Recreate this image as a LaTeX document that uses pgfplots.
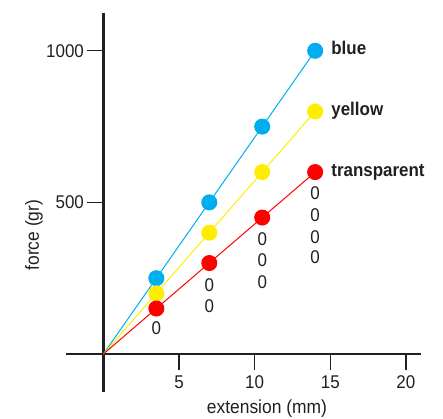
\documentclass[border=0pt]{standalone}
\usepackage{pgfplots}
\pgfplotsset{compat=1.18}
\usepackage{fontspec}
\setmainfont{Liberation Sans}
\newfontfamily\condbold{Liberation Sans Bold}[FakeStretch=0.92]
\newfontfamily\cond{Liberation Sans}[FakeStretch=0.92]
\definecolor{cblue}{HTML}{00AEEF}
\definecolor{cyel}{HTML}{FFED00}
\definecolor{cred}{HTML}{FF0000}
\definecolor{ink}{HTML}{231F20}
\begin{document}
\begin{tikzpicture}[x=1bp,y=1bp]
\useasboundingbox (-103.4bp,-65bp) rectangle (339.6bp,354bp);
\begin{axis}[
 anchor=origin, at={(0,0)},
 scale only axis, width=355bp, height=379bp,
 xmin=-2.47, xmax=21, ymin=-125, ymax=1125,
 axis lines=middle,
 axis line style={-, line width=2.6bp, ink},
 tick align=outside,
 major tick length=16bp,
 tick style={line width=1.3bp, ink},
 xtick={5,10,15,20}, ytick={500,1000},
 minor tick num=0,
 ticklabel style={font=\cond\fontsize{18.5}{20}\selectfont, text=ink},
 xticklabel style={yshift=-2.5bp},
 /pgf/number format/assume math mode=true,
 /pgf/number format/1000 sep={},
 clip=false,
]
\addplot[cblue, line width=1bp, mark=*, mark size=7.5bp, mark options={draw=none, fill=cblue}, mark indices={2,3,4,5}]
 coordinates {(0,0)(3.5,250)(7,500)(10.5,750)(14,1000)};
\addplot[cyel, line width=1bp, mark=*, mark size=7.5bp, mark options={draw=none, fill=cyel}, mark indices={2,3,4,5}]
 coordinates {(0,0)(3.5,200)(7,400)(10.5,600)(14,800)};
\addplot[cred, line width=1bp, mark=*, mark size=7.5bp, mark options={draw=none, fill=cred}, mark indices={2,3,4,5}]
 coordinates {(0,0)(3.5,150)(7,300)(10.5,450)(14,600)};
\tikzset{lab/.style={anchor=base west, xshift=16bp, yshift=-4bp, text=ink, inner sep=0pt, font=\condbold\fontsize{18.5}{20}\selectfont}}
\node[lab] at (axis cs:14,1000) {blue};
\node[lab] at (axis cs:14,800) {yellow};
\node[lab] at (axis cs:14,600) {transparent};
\tikzset{zz/.style={text=ink, inner sep=0pt, font=\cond\fontsize{18.5}{20}\selectfont}}
\node[zz] at (axis cs:3.5,86) {0};
\node[zz] at (axis cs:7,228) {0};
\node[zz] at (axis cs:7,159) {0};
\node[zz] at (axis cs:10.5,379) {0};
\node[zz] at (axis cs:10.5,308) {0};
\node[zz] at (axis cs:10.5,237) {0};
\node[zz] at (axis cs:14,531) {0};
\node[zz] at (axis cs:14,458) {0};
\node[zz] at (axis cs:14,387) {0};
\node[zz] at (axis cs:14,318) {0};
\node[text=ink, rotate=90, font=\cond\fontsize{19}{20}\selectfont] at (axis cs:-4.59,392) {force (gr)};
\node[text=ink, font=\cond\fontsize{19}{20}\selectfont] at (axis cs:10.81,-181) {extension (mm)};
\end{axis}
\end{tikzpicture}
\end{document}
